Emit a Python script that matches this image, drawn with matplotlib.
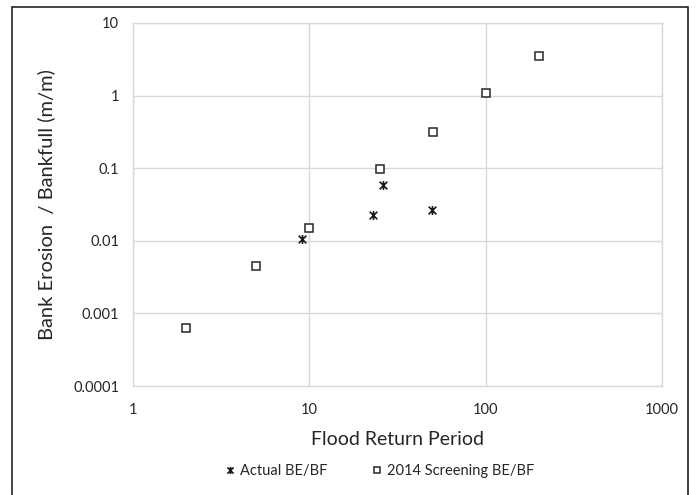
import matplotlib.pyplot as plt
from matplotlib.patches import Rectangle
from matplotlib.path import Path

plt.rcParams["font.family"] = ["Lato", "DejaVu Sans"]

# Flood return period (years) vs bank erosion / bankfull ratio
actual_period = [9.1, 23, 26.2, 49.7]
actual_ratio = [0.0106, 0.0226, 0.058, 0.0266]

screening_period = [2, 5, 10, 25, 50, 100, 200]
screening_ratio = [0.00063, 0.0045, 0.015, 0.097, 0.315, 1.07, 3.55]

x_ticks = [1, 10, 100, 1000]
x_tick_labels = ["1", "10", "100", "1000"]
y_ticks = [0.0001, 0.001, 0.01, 0.1, 1, 10]
y_tick_labels = ["0.0001", "0.001", "0.01", "0.1", "1", "10"]

GRID = "#d9d9d9"
TEXT = "#262626"

# X with a vertical bar, like a spreadsheet "*" marker
star = Path(
    [(0, -1), (0, 1), (-0.85, -0.85), (0.85, 0.85), (-0.85, 0.85), (0.85, -0.85)],
    [Path.MOVETO, Path.LINETO, Path.MOVETO, Path.LINETO, Path.MOVETO, Path.LINETO],
)

fig = plt.figure(figsize=(6.96, 4.95), dpi=100)
ax = fig.add_axes([133 / 696, 1 - 386 / 495, (662 - 133) / 696, (386 - 23) / 495])

ax.plot(actual_period, actual_ratio, linestyle="none", marker=star,
        markersize=6.5, markeredgewidth=1.2, color="#1a1a1a",
        label="Actual BE/BF", zorder=3)
ax.plot(screening_period, screening_ratio, linestyle="none", marker="s",
        markersize=6, markeredgewidth=1.1, markerfacecolor="white",
        markeredgecolor="#262626", label="2014 Screening BE/BF", zorder=3)

ax.set_xscale("log")
ax.set_yscale("log")
ax.set_xlim(1, 1000)
ax.set_ylim(0.0001, 10)
ax.set_xticks(x_ticks)
ax.set_xticklabels(x_tick_labels)
ax.set_yticks(y_ticks)
ax.set_yticklabels(y_tick_labels)
ax.minorticks_off()
ax.tick_params(length=0, labelsize=10.5, colors=TEXT, pad=10)
ax.tick_params(axis="x", pad=12)
ax.grid(True, color=GRID, linewidth=1)
ax.set_axisbelow(True)
for sp in ax.spines.values():
    sp.set_color(GRID)
    sp.set_linewidth(1)

ax.set_xlabel("Flood Return Period", fontsize=14, color=TEXT, labelpad=10)
ax.set_ylabel("Bank Erosion  / Bankfull (m/m)", fontsize=14.5, color=TEXT, labelpad=13)

fig.legend(loc="center", bbox_to_anchor=(379 / 696, 1 - 471 / 495), ncol=2,
           frameon=False, fontsize=10.5, handlelength=0.8, handletextpad=0.3,
           columnspacing=3.0, markerscale=0.8, labelcolor=TEXT)

# outer chart border
fig.patches.append(Rectangle((12 / 696, -0.01), (688 - 12) / 696, 1 - 7 / 495 + 0.01,
                             transform=fig.transFigure, fill=False,
                             edgecolor="#222222", linewidth=1.2))

fig.savefig("out.png", dpi=100)
